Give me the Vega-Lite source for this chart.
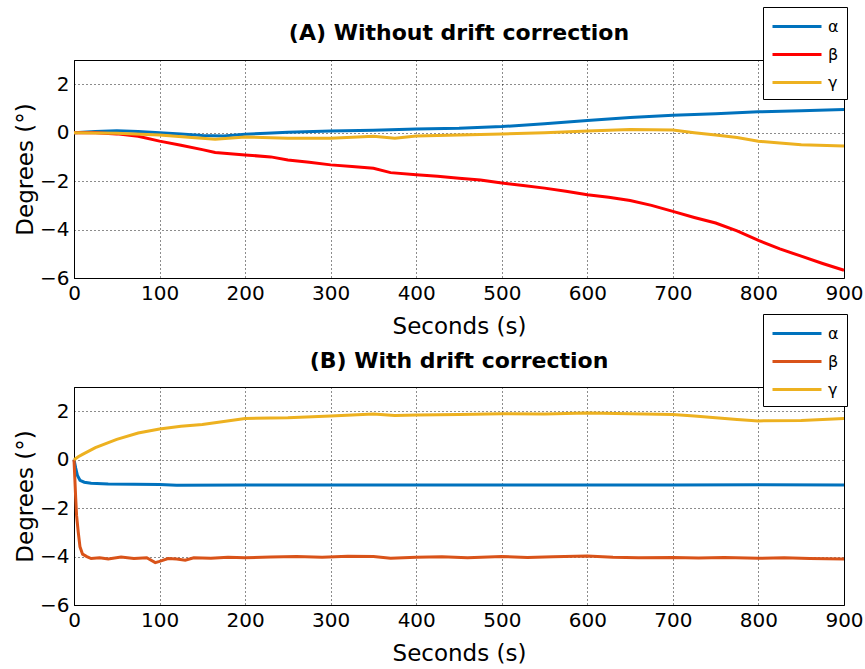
{
  "$schema": "https://vega.github.io/schema/vega-lite/v6.json",
  "padding": {"left": 14, "top": 6, "right": 5, "bottom": 5},
  "datasets": {
    "a": [
      {"s":"α","t":0,"v":0},{"s":"α","t":25,"v":0.05},{"s":"α","t":50,"v":0.08},{"s":"α","t":75,"v":0.05},{"s":"α","t":100,"v":0.0},{"s":"α","t":125,"v":-0.06},{"s":"α","t":150,"v":-0.12},{"s":"α","t":175,"v":-0.14},{"s":"α","t":200,"v":-0.07},{"s":"α","t":225,"v":-0.02},{"s":"α","t":250,"v":0.02},{"s":"α","t":300,"v":0.07},{"s":"α","t":350,"v":0.1},{"s":"α","t":400,"v":0.15},{"s":"α","t":450,"v":0.18},{"s":"α","t":500,"v":0.25},{"s":"α","t":550,"v":0.37},{"s":"α","t":600,"v":0.5},{"s":"α","t":650,"v":0.63},{"s":"α","t":700,"v":0.72},{"s":"α","t":750,"v":0.78},{"s":"α","t":800,"v":0.86},{"s":"α","t":850,"v":0.9},{"s":"α","t":900,"v":0.96},
      {"s":"β","t":0,"v":0},{"s":"β","t":25,"v":0},{"s":"β","t":50,"v":-0.05},{"s":"β","t":75,"v":-0.15},{"s":"β","t":100,"v":-0.35},{"s":"β","t":125,"v":-0.52},{"s":"β","t":150,"v":-0.7},{"s":"β","t":165,"v":-0.82},{"s":"β","t":200,"v":-0.92},{"s":"β","t":230,"v":-1.0},{"s":"β","t":250,"v":-1.13},{"s":"β","t":275,"v":-1.22},{"s":"β","t":300,"v":-1.33},{"s":"β","t":325,"v":-1.4},{"s":"β","t":350,"v":-1.47},{"s":"β","t":370,"v":-1.65},{"s":"β","t":400,"v":-1.74},{"s":"β","t":425,"v":-1.8},{"s":"β","t":450,"v":-1.88},{"s":"β","t":475,"v":-1.95},{"s":"β","t":500,"v":-2.08},{"s":"β","t":525,"v":-2.18},{"s":"β","t":550,"v":-2.29},{"s":"β","t":575,"v":-2.42},{"s":"β","t":600,"v":-2.56},{"s":"β","t":625,"v":-2.67},{"s":"β","t":650,"v":-2.8},{"s":"β","t":675,"v":-3.0},{"s":"β","t":700,"v":-3.25},{"s":"β","t":725,"v":-3.5},{"s":"β","t":750,"v":-3.73},{"s":"β","t":775,"v":-4.05},{"s":"β","t":800,"v":-4.45},{"s":"β","t":825,"v":-4.8},{"s":"β","t":850,"v":-5.1},{"s":"β","t":875,"v":-5.4},{"s":"β","t":900,"v":-5.68},
      {"s":"γ","t":0,"v":0},{"s":"γ","t":50,"v":-0.02},{"s":"γ","t":100,"v":-0.1},{"s":"γ","t":130,"v":-0.18},{"s":"γ","t":165,"v":-0.27},{"s":"γ","t":200,"v":-0.18},{"s":"γ","t":250,"v":-0.23},{"s":"γ","t":300,"v":-0.23},{"s":"γ","t":350,"v":-0.15},{"s":"γ","t":375,"v":-0.23},{"s":"γ","t":400,"v":-0.14},{"s":"γ","t":450,"v":-0.1},{"s":"γ","t":500,"v":-0.05},{"s":"γ","t":550,"v":0.0},{"s":"γ","t":600,"v":0.07},{"s":"γ","t":650,"v":0.13},{"s":"γ","t":700,"v":0.11},{"s":"γ","t":725,"v":0.0},{"s":"γ","t":750,"v":-0.1},{"s":"γ","t":775,"v":-0.2},{"s":"γ","t":800,"v":-0.35},{"s":"γ","t":825,"v":-0.43},{"s":"γ","t":850,"v":-0.5},{"s":"γ","t":900,"v":-0.55}
    ],
    "b": [
      {"s":"α","t":0,"v":0},{"s":"α","t":2,"v":-0.35},{"s":"α","t":4,"v":-0.65},{"s":"α","t":7,"v":-0.85},{"s":"α","t":12,"v":-0.93},{"s":"α","t":20,"v":-0.97},{"s":"α","t":40,"v":-1.0},{"s":"α","t":70,"v":-1.02},{"s":"α","t":100,"v":-1.03},{"s":"α","t":120,"v":-1.06},{"s":"α","t":200,"v":-1.05},{"s":"α","t":300,"v":-1.05},{"s":"α","t":400,"v":-1.05},{"s":"α","t":500,"v":-1.05},{"s":"α","t":600,"v":-1.05},{"s":"α","t":700,"v":-1.05},{"s":"α","t":800,"v":-1.04},{"s":"α","t":900,"v":-1.05},
      {"s":"β","t":0,"v":0},{"s":"β","t":1,"v":-0.8},{"s":"β","t":2,"v":-1.6},{"s":"β","t":3,"v":-2.3},{"s":"β","t":5,"v":-3.0},{"s":"β","t":7,"v":-3.6},{"s":"β","t":10,"v":-3.9},{"s":"β","t":15,"v":-4.0},{"s":"β","t":20,"v":-4.08},{"s":"β","t":30,"v":-4.05},{"s":"β","t":40,"v":-4.1},{"s":"β","t":55,"v":-4.02},{"s":"β","t":70,"v":-4.08},{"s":"β","t":85,"v":-4.05},{"s":"β","t":95,"v":-4.25},{"s":"β","t":100,"v":-4.2},{"s":"β","t":110,"v":-4.08},{"s":"β","t":120,"v":-4.1},{"s":"β","t":130,"v":-4.15},{"s":"β","t":140,"v":-4.05},{"s":"β","t":160,"v":-4.07},{"s":"β","t":180,"v":-4.03},{"s":"β","t":200,"v":-4.05},{"s":"β","t":230,"v":-4.02},{"s":"β","t":260,"v":-4.0},{"s":"β","t":290,"v":-4.03},{"s":"β","t":320,"v":-3.99},{"s":"β","t":350,"v":-4.0},{"s":"β","t":370,"v":-4.07},{"s":"β","t":400,"v":-4.03},{"s":"β","t":430,"v":-4.01},{"s":"β","t":460,"v":-4.05},{"s":"β","t":500,"v":-4.0},{"s":"β","t":530,"v":-4.04},{"s":"β","t":560,"v":-4.01},{"s":"β","t":600,"v":-3.98},{"s":"β","t":630,"v":-4.03},{"s":"β","t":660,"v":-4.05},{"s":"β","t":700,"v":-4.04},{"s":"β","t":730,"v":-4.06},{"s":"β","t":760,"v":-4.04},{"s":"β","t":800,"v":-4.07},{"s":"β","t":830,"v":-4.05},{"s":"β","t":860,"v":-4.08},{"s":"β","t":900,"v":-4.1},
      {"s":"γ","t":0,"v":0},{"s":"γ","t":5,"v":0.12},{"s":"γ","t":10,"v":0.22},{"s":"γ","t":25,"v":0.5},{"s":"γ","t":50,"v":0.84},{"s":"γ","t":75,"v":1.1},{"s":"γ","t":100,"v":1.27},{"s":"γ","t":125,"v":1.38},{"s":"γ","t":150,"v":1.45},{"s":"γ","t":175,"v":1.58},{"s":"γ","t":200,"v":1.7},{"s":"γ","t":250,"v":1.73},{"s":"γ","t":300,"v":1.8},{"s":"γ","t":350,"v":1.89},{"s":"γ","t":375,"v":1.82},{"s":"γ","t":400,"v":1.84},{"s":"γ","t":450,"v":1.86},{"s":"γ","t":500,"v":1.9},{"s":"γ","t":550,"v":1.89},{"s":"γ","t":600,"v":1.93},{"s":"γ","t":650,"v":1.9},{"s":"γ","t":700,"v":1.86},{"s":"γ","t":725,"v":1.8},{"s":"γ","t":750,"v":1.73},{"s":"γ","t":775,"v":1.66},{"s":"γ","t":800,"v":1.6},{"s":"γ","t":850,"v":1.62},{"s":"γ","t":900,"v":1.7}
    ]
  },
  "spacing": 109,
  "bounds": "flush",
  "resolve": {"scale": {"color": "independent"}, "legend": {"color": "independent"}},
  "vconcat": [
    {
      "width": 770, "height": 218,
      "title": {"text": "(A) Without drift correction", "offset": -38},
      "data": {"name": "a"},
      "mark": {"type": "line", "strokeWidth": 3},
      "encoding": {
        "x": {"field": "t", "type": "quantitative", "scale": {"domain": [0, 900], "nice": false}, "axis": {"title": "Seconds (s)", "values": [0,100,200,300,400,500,600,700,800,900]}},
        "y": {"field": "v", "type": "quantitative", "scale": {"domain": [-6, 3], "nice": false}, "axis": {"title": "Degrees (°)", "values": [-6,-4,-2,0,2]}},
        "color": {"field": "s", "type": "nominal", "scale": {"domain": ["α","β","γ"], "range": ["#0072BD","#FF0000","#EDB120"]}, "legend": {"legendX": 689, "legendY": -53}}
      }
    },
    {
      "width": 770, "height": 218,
      "title": {"text": "(B) With drift correction", "offset": -59},
      "data": {"name": "b"},
      "mark": {"type": "line", "strokeWidth": 3},
      "encoding": {
        "x": {"field": "t", "type": "quantitative", "scale": {"domain": [0, 900], "nice": false}, "axis": {"title": "Seconds (s)", "values": [0,100,200,300,400,500,600,700,800,900]}},
        "y": {"field": "v", "type": "quantitative", "scale": {"domain": [-6, 3], "nice": false}, "axis": {"title": "Degrees (°)", "values": [-6,-4,-2,0,2]}},
        "color": {"field": "s", "type": "nominal", "scale": {"domain": ["α","β","γ"], "range": ["#0072BD","#D95319","#EDB120"]}, "legend": {"legendX": 689, "legendY": -73}}
      }
    }
  ],
  "config": {
    "font": "DejaVu Sans",
    "view": {"stroke": "#000000", "strokeWidth": 1},
    "title": {"fontSize": 22, "fontWeight": "bold", "color": "#000000", "anchor": "middle", "frame": "group"},
    "axis": {
      "labelFontSize": 20, "labelColor": "#000000", "titleFontSize": 23, "titleFontWeight": "normal", "titleColor": "#000000",
      "ticks": false, "domainColor": "#000000", "gridColor": "#000000", "gridDash": [1, 3], "gridOpacity": 0.9, "labelPadding": 5,
      "labelFlush": false, "labelOverlap": false
    },
    "axisX": {"titlePadding": 12},
    "axisY": {"titlePadding": 2},
    "legend": {
      "orient": "none", "title": null, "strokeColor": "#000000", "fillColor": "#ffffff", "padding": 8, "rowPadding": 8,
      "symbolType": "M-1,0H3.9", "symbolSize": 400, "symbolStrokeWidth": 3, "labelFontSize": 16, "labelOffset": 34, "labelColor": "#000000",
      "cornerRadius": 0
    }
  }
}
